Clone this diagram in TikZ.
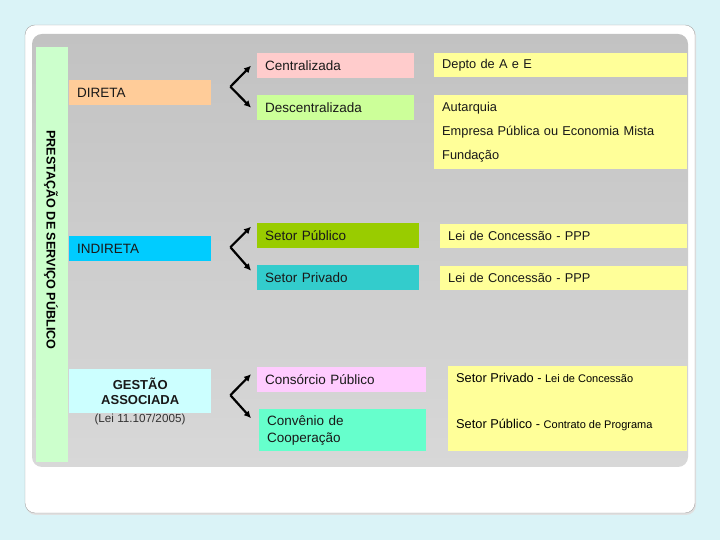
\documentclass[tikz,border=0pt]{standalone}
\usepackage{fontspec}
\setmainfont{Liberation Sans}
\usetikzlibrary{arrows.meta, positioning, calc}
\definecolor{slidebg}{HTML}{DAF3F7}
\definecolor{frameline}{HTML}{A4A4A4}
\definecolor{panetop}{HTML}{C2C2C2}
\definecolor{panebot}{HTML}{D8D8D8}
\definecolor{stripgreen}{HTML}{CCFFCC}
\definecolor{diretaorange}{HTML}{FFCC99}
\definecolor{centrpink}{HTML}{FFCCCC}
\definecolor{descgreen}{HTML}{CCFF99}
\definecolor{notesyellow}{HTML}{FFFF99}
\definecolor{indirblue}{HTML}{00CCFF}
\definecolor{pubolive}{HTML}{99CC00}
\definecolor{privteal}{HTML}{33CCCC}
\definecolor{gestcyan}{HTML}{CCFFFF}
\definecolor{consmagenta}{HTML}{FFCCFF}
\definecolor{convmint}{HTML}{66FFCC}

\begin{document}
\begin{tikzpicture}[x=1pt, y=1pt,
  box/.style={anchor=north west, inner sep=0pt, inner xsep=8pt, align=left,
    font=\fontsize{13.5}{16}\selectfont, text=black!90},
  notebox/.style={box, fill=notesyellow, font=\fontsize{12.8}{24}\selectfont},
  forkarrow/.style={line width=2.2pt, -{Latex[length=7pt, width=7pt]}}]
  % slide background and frames
  \fill[slidebg] (0,0) rectangle (720,540);
  \useasboundingbox (0,0) rectangle (720,540);
  \fill[black!12, rounded corners=10pt] (26,25) rectangle (696,514);
  \draw[frameline, fill=white, rounded corners=10pt] (25,27) rectangle (695,515);
  \shade[top color=panetop, bottom color=panebot, rounded corners=10pt]
        (32,73) rectangle (688,506);
  \fill[stripgreen] (36,78) rectangle (68,493);
  \node[rotate=-90, font=\fontsize{12.6}{14}\selectfont\bfseries] (titulo) at (51,300)
       {PRESTAÇÃO DE SERVIÇO PÚBLICO};

  % DIRETA
  \node[box, fill=diretaorange, text width=126pt, minimum height=25pt] (direta) at (69,460) {DIRETA};
  \node[box, fill=centrpink, text width=141pt, minimum height=25pt] (centr) at (257,487) {Centralizada};
  \node[box, fill=descgreen, text width=141pt, minimum height=25pt] (descentr) at (257,445) {Descentralizada};
  \node[notebox, text width=237pt, minimum height=24pt] (depto) at (434,487) {Depto de A e E};
  \node[notebox, text width=237pt, minimum height=74pt] (autarq) at (434,445)
       {Autarquia\\Empresa Pública ou Economia Mista\\Fundação};
  \coordinate (dfork) at ([shift={(19,6)}]direta.east);
  \draw[forkarrow] (dfork) -- ([xshift=-6pt]centr.west);
  \draw[forkarrow] (dfork) -- ([xshift=-6pt]descentr.west);

  % INDIRETA
  \node[box, fill=indirblue, text width=126pt, minimum height=25pt] (indireta) at (69,304) {INDIRETA};
  \node[box, fill=pubolive, text width=146pt, minimum height=25pt] (setpub) at (257,317) {Setor Público};
  \node[box, fill=privteal, text width=146pt, minimum height=25pt] (setpriv) at (257,275) {Setor Privado};
  \node[notebox, text width=231pt, minimum height=24pt] (leipub) at (440,316) {Lei de Concessão - PPP};
  \node[notebox, text width=231pt, minimum height=24pt] (leipriv) at (440,274) {Lei de Concessão - PPP};
  \coordinate (ifork) at ([shift={(19,1.5)}]indireta.east);
  \draw[forkarrow] (ifork) -- ([shift={(-6pt,9pt)}]setpub.west);
  \draw[forkarrow] (ifork) -- ([shift={(-6pt,7pt)}]setpriv.west);

  % GESTAO ASSOCIADA
  \node[box, fill=gestcyan, text width=126pt, minimum height=44pt, align=center,
        font=\fontsize{13}{15}\selectfont\bfseries] (gestao) at (69,171) {GESTÃO\\ASSOCIADA};
  \node[font=\fontsize{11.7}{14}\selectfont, text=black!80] (leinote) at (140,121) {(Lei 11.107/2005)};
  \node[box, fill=consmagenta, text width=153pt, minimum height=25pt] (consorcio) at (257,173) {Consórcio Público};
  \node[box, fill=convmint, text width=151pt, minimum height=42pt, font=\fontsize{13.5}{17}\selectfont]
       (convenio) at (259,131) {Convênio de\\Cooperação};
  \node[notebox, text width=223pt, minimum height=85pt] (modal) at (448,174) {};
  \node[anchor=west, inner sep=0pt, font=\fontsize{12.8}{15}\selectfont] (mpriv)
       at ([shift={(8pt,-11.5pt)}]modal.north west)
       {Setor Privado - {\fontsize{11}{13}\selectfont Lei de Concessão}};
  \node[anchor=west, inner sep=0pt, font=\fontsize{12.8}{15}\selectfont] (mpub)
       at ([shift={(8pt,-59pt)}]modal.north west)
       {Setor Público - {\fontsize{11}{13}\selectfont Contrato de Programa}};
  \coordinate (gfork) at ([shift={(19,-4)}]gestao.east);
  \draw[forkarrow] (gfork) -- ([shift={(-6pt,5.5pt)}]consorcio.west);
  \draw[forkarrow] (gfork) -- ([shift={(-8pt,12pt)}]convenio.west);
\end{tikzpicture}
\end{document}
